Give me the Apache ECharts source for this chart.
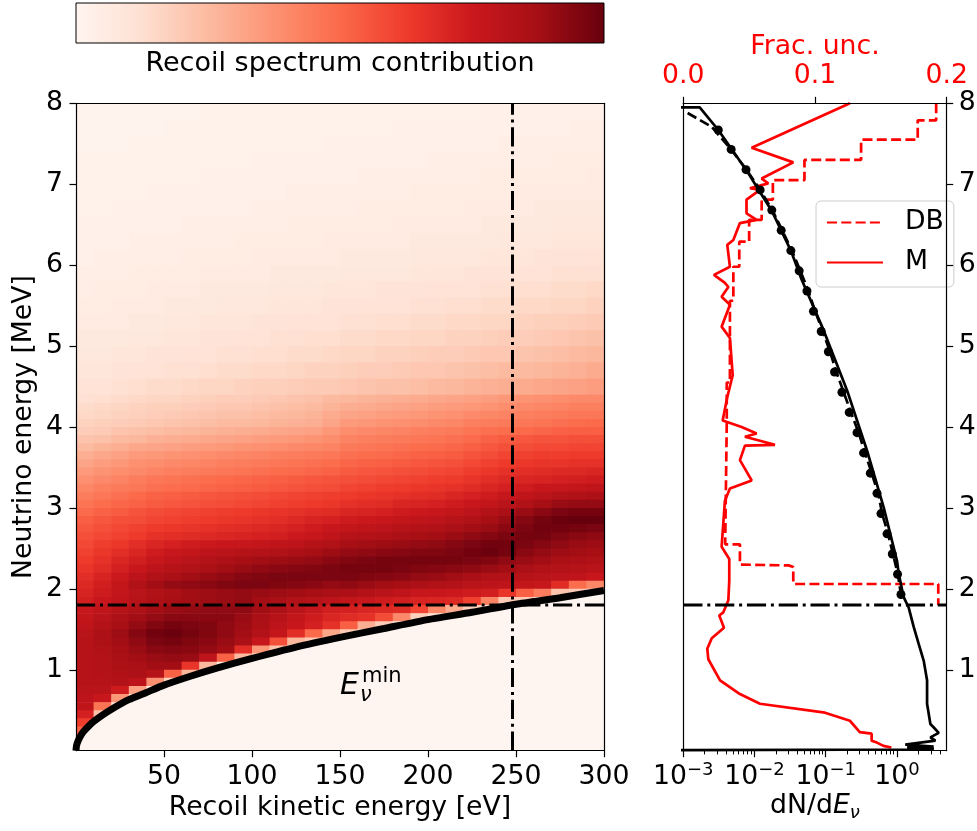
<!DOCTYPE html>
<html>
<head>
<meta charset="utf-8">
<script src="https://cdn.jsdelivr.net/npm/echarts@6.0.0/dist/echarts.min.js"></script>
<style>
  html, body { margin: 0; padding: 0; background: #fff; }
  #chart { width: 977px; height: 831px; }
</style>
</head>
<body>
<div id="chart"></div>
<script>
const FONT = 'DejaVu Sans';
const RED = '#ff0000';
// matplotlib "Reds"
const REDS = ['#fff5f0', '#fee0d2', '#fcbba1', '#fc9272', '#fb6a4a', '#ef3b2c', '#cb181d', '#a50f15', '#67000d'];

// --- left panel: recoil spectrum contribution (0..100) ---
const recoilBins = [0, 10, 20, 30, 40, 50, 60, 70, 80, 90, 100, 110, 120, 130, 140, 150, 160, 170, 180, 190, 200, 210, 220, 230, 240, 250, 260, 270, 280, 290];
const binT = 10;
// row edges, top to bottom (0.2 MeV rows above 4.4 MeV, 0.1 MeV rows below)
const energyEdges = [8.0, 7.8, 7.6, 7.4, 7.2, 7.0, 6.8, 6.6, 6.4, 6.2, 6.0, 5.8, 5.6, 5.4, 5.2, 5.0, 4.8, 4.6, 4.4,
  4.3, 4.2, 4.1, 4.0, 3.9, 3.8, 3.7, 3.6, 3.5, 3.4, 3.3, 3.2, 3.1, 3.0, 2.9, 2.8, 2.7, 2.6, 2.5, 2.4, 2.3, 2.2, 2.1, 2.0,
  1.9, 1.8, 1.7, 1.6, 1.5, 1.4, 1.3, 1.2, 1.1, 1.0, 0.9, 0.8, 0.7, 0.6, 0.5, 0.4, 0.3, 0.2, 0.1, 0.0];
const contribution = [
  [1,1,1,1,1,1,1,2,2,2,2,2,2,2,2,2,2,2,2,2,2,2,2,3,3,3,3,3,3,3],
  [1,1,1,1,1,2,2,2,2,2,2,2,2,2,2,2,2,2,3,3,3,3,3,3,3,3,3,3,4,4],
  [1,1,1,2,2,2,2,2,2,2,2,2,2,2,3,3,3,3,3,3,3,3,3,3,4,4,4,4,4,4],
  [2,2,2,2,2,2,2,2,2,2,3,3,3,3,3,3,3,3,3,3,4,4,4,4,4,4,4,5,5,5],
  [2,2,2,2,2,2,2,3,3,3,3,3,3,3,3,3,4,4,4,4,4,4,4,5,5,5,5,5,5,6],
  [2,2,2,2,3,3,3,3,3,3,3,3,4,4,4,4,4,4,4,5,5,5,5,5,5,6,6,6,6,6],
  [2,2,3,3,3,3,3,3,3,3,4,4,4,4,4,4,5,5,5,5,5,5,6,6,6,6,7,7,7,7],
  [3,3,3,3,3,3,4,4,4,4,4,4,5,5,5,5,5,5,6,6,6,6,6,7,7,7,7,8,8,8],
  [3,3,3,4,4,4,4,4,4,5,5,5,5,5,6,6,6,6,6,7,7,7,7,7,8,8,8,9,9,9],
  [3,4,4,4,4,4,5,5,5,5,6,6,6,6,6,7,7,7,7,8,8,8,8,9,9,9,10,10,10,11],
  [4,4,4,5,5,5,5,6,6,6,6,7,7,7,7,8,8,8,8,9,9,9,10,10,10,11,11,12,12,12],
  [4,5,5,5,6,6,6,7,7,7,7,8,8,8,9,9,9,10,10,10,11,11,11,12,12,13,13,14,14,15],
  [5,5,6,6,6,7,7,7,8,8,8,9,9,9,10,10,11,11,11,12,12,13,13,14,14,15,15,16,16,17],
  [6,6,6,7,7,8,8,9,9,9,10,10,11,11,11,12,12,13,13,14,14,15,15,16,16,17,18,18,19,20],
  [7,7,7,8,8,9,9,10,10,11,11,12,12,13,13,14,14,15,15,16,16,17,17,18,19,19,20,21,22,23],
  [8,8,9,9,10,10,11,11,12,12,13,13,14,14,15,16,16,17,17,18,19,19,20,21,21,22,23,24,25,26],
  [9,9,10,11,11,12,12,13,14,14,15,15,16,17,17,18,19,19,20,21,21,22,23,24,25,25,26,27,28,30],
  [11,11,12,13,14,14,15,16,16,17,18,18,19,20,20,21,22,23,23,24,25,26,27,28,29,30,31,32,33,34],
  [12,13,14,15,16,16,17,18,19,19,20,21,22,23,25,26,27,28,29,30,31,32,33,34,36,37,38,39,40,40],
  [14,15,16,17,18,18,19,20,21,21,22,23,24,25,27,29,30,31,32,33,34,35,36,37,39,40,41,42,43,43],
  [15,16,17,18,19,20,21,22,23,23,24,25,26,27,30,32,33,34,35,36,37,38,40,41,42,43,44,45,46,46],
  [17,18,19,20,21,22,23,24,25,25,26,27,28,29,32,35,36,37,38,39,40,41,43,44,45,46,47,48,49,50],
  [19,20,22,23,24,25,26,27,28,29,30,31,32,33,36,39,40,41,42,43,44,45,47,48,49,50,51,52,53,53],
  [22,23,25,26,28,29,30,31,32,33,34,35,36,37,39,42,43,44,45,46,47,48,50,52,54,55,56,56,57,57],
  [25,27,29,31,32,33,34,35,36,37,38,39,40,41,42,45,46,47,48,49,50,51,53,55,57,58,59,59,60,60],
  [29,31,33,35,36,37,38,39,40,41,42,43,44,45,46,48,49,50,51,52,53,54,56,58,60,61,62,62,63,63],
  [32,34,36,38,39,40,41,42,43,44,45,46,47,48,49,51,52,53,54,55,56,57,59,61,63,64,65,65,66,66],
  [35,37,39,40,42,43,44,45,46,47,48,49,50,51,52,54,55,56,57,58,59,60,62,64,66,67,68,69,69,70],
  [38,40,42,44,46,47,48,49,50,51,52,53,54,55,56,57,58,59,60,61,62,63,65,67,69,70,71,72,73,74],
  [41,43,45,46,48,49,50,51,52,53,54,55,56,57,58,60,61,62,63,64,65,66,68,70,72,74,76,77,78,79],
  [44,46,48,50,52,53,54,55,56,57,58,59,60,61,62,63,64,65,66,67,68,70,72,74,77,79,81,83,84,85],
  [47,49,51,52,54,55,56,57,58,59,60,61,62,63,64,66,67,68,70,71,72,74,76,78,81,84,87,90,91,91],
  [50,52,54,56,58,59,60,61,62,63,64,65,66,67,68,70,71,72,74,75,76,78,80,83,86,90,93,96,97,97],
  [53,55,57,58,60,61,62,63,64,65,66,67,69,71,72,74,75,76,78,79,80,82,84,87,90,94,97,99,100,100],
  [55,57,59,61,63,64,65,66,67,68,69,70,72,74,76,78,79,80,82,83,84,86,88,90,93,96,98,98,97,96],
  [57,59,61,63,66,67,68,69,70,71,72,73,75,77,79,82,83,84,86,87,88,90,92,94,96,97,97,95,93,92],
  [59,62,64,67,70,72,74,75,76,77,78,79,80,82,84,87,88,89,90,91,92,94,96,98,98,96,94,92,90,89],
  [61,64,67,70,74,76,78,80,81,82,83,84,85,87,89,91,92,93,94,95,95,96,98,99,97,93,91,89,88,87],
  [63,66,70,73,77,79,81,83,85,87,88,89,90,91,93,95,96,97,97,97,97,97,96,95,92,90,88,86,85,84],
  [65,68,72,76,80,82,84,86,88,90,92,93,94,95,96,97,97,97,96,95,94,93,92,90,88,86,84,83,82,81],
  [67,71,75,80,84,86,88,90,92,94,95,96,96,96,96,96,95,94,93,91,90,88,86,84,83,82,81,80,79,76],
  [69,73,78,84,88,91,92,93,95,96,96,95,94,93,91,92,90,88,87,85,84,83,81,80,79,78,77,68,49,41],
  [71,74,78,81,84,86,88,89,90,91,90,89,88,87,86,85,83,81,79,77,76,75,74,73,65,53,44,22,20,10],
  [73,76,79,82,85,87,88,89,90,91,88,86,84,82,80,78,76,74,73,71,70,69,61,42,20,20,7,7,0,0],
  [76,79,82,85,88,90,91,92,92,92,88,85,81,77,73,72,70,69,68,60,41,30,19,6,6,0,0,0,0,0],
  [78,81,85,88,91,93,93,93,93,90,86,82,78,74,70,68,66,58,40,18,12,6,5,0,0,0,0,0,0,0],
  [79,83,87,91,95,97,96,95,92,89,85,80,76,72,66,53,29,19,6,6,0,0,0,0,0,0,0,0,0,0],
  [81,85,89,94,98,99,97,95,92,88,83,78,67,50,31,20,6,0,0,0,0,0,0,0,0,0,0,0,0,0],
  [82,85,88,92,96,97,95,93,90,86,77,57,26,21,7,0,0,0,0,0,0,0,0,0,0,0,0,0,0,0],
  [82,84,87,90,93,94,93,91,88,67,36,22,7,0,0,0,0,0,0,0,0,0,0,0,0,0,0,0,0,0],
  [82,83,86,88,90,91,90,79,52,25,8,0,0,0,0,0,0,0,0,0,0,0,0,0,0,0,0,0,0,0],
  [82,83,85,86,88,88,65,26,8,4,0,0,0,0,0,0,0,0,0,0,0,0,0,0,0,0,0,0,0,0],
  [82,83,84,85,82,52,26,8,0,0,0,0,0,0,0,0,0,0,0,0,0,0,0,0,0,0,0,0,0,0],
  [82,82,83,80,38,17,0,0,0,0,0,0,0,0,0,0,0,0,0,0,0,0,0,0,0,0,0,0,0,0],
  [81,81,74,33,8,0,0,0,0,0,0,0,0,0,0,0,0,0,0,0,0,0,0,0,0,0,0,0,0,0],
  [80,76,36,12,0,0,0,0,0,0,0,0,0,0,0,0,0,0,0,0,0,0,0,0,0,0,0,0,0,0],
  [79,47,12,0,0,0,0,0,0,0,0,0,0,0,0,0,0,0,0,0,0,0,0,0,0,0,0,0,0,0],
  [72,23,0,0,0,0,0,0,0,0,0,0,0,0,0,0,0,0,0,0,0,0,0,0,0,0,0,0,0,0],
  [62,3,0,0,0,0,0,0,0,0,0,0,0,0,0,0,0,0,0,0,0,0,0,0,0,0,0,0,0,0],
  [52,0,0,0,0,0,0,0,0,0,0,0,0,0,0,0,0,0,0,0,0,0,0,0,0,0,0,0,0,0],
  [38,0,0,0,0,0,0,0,0,0,0,0,0,0,0,0,0,0,0,0,0,0,0,0,0,0,0,0,0,0],
  [20,0,0,0,0,0,0,0,0,0,0,0,0,0,0,0,0,0,0,0,0,0,0,0,0,0,0,0,0,0]
];

// E_nu^min curve
const thresholdRecoil = [0, 0.25, 1, 2, 4, 7, 10, 15, 20, 30, 40, 50, 65, 80, 100, 125, 150, 175, 200, 225, 250, 275, 300];
const thresholdEnergy = [0, 0.06, 0.11, 0.16, 0.23, 0.30, 0.36, 0.44, 0.51, 0.63, 0.72, 0.81, 0.92, 1.02, 1.14, 1.28, 1.40, 1.51, 1.62, 1.71, 1.81, 1.89, 1.98];
const cutRecoil = 248;
const cutEnergy = 1.8;

// --- right panel ---
const fitEnergy = [7.67, 7.43, 7.18, 6.93, 6.68, 6.43, 6.18, 5.93, 5.68, 5.43, 5.18, 4.93, 4.68, 4.43, 4.18, 3.93, 3.68, 3.43, 3.18, 2.93, 2.68, 2.43, 2.18, 1.93];
const fitFlux = [0.0031, 0.0047, 0.0076, 0.012, 0.0175, 0.0237, 0.0324, 0.0424, 0.0545, 0.0673, 0.0865, 0.109, 0.133, 0.169, 0.214, 0.275, 0.340, 0.423, 0.525, 0.597, 0.726, 0.861, 1.02, 1.14];

const dashEnergy = [7.88, 7.71, 7.43, 7.18, 6.92, 6.67, 6.43, 6.18, 5.93, 5.68, 5.43, 5.18, 4.93, 4.68, 4.43, 4.18, 3.93, 3.68, 3.43, 3.18, 2.93, 2.68, 2.43, 2.18, 1.93];
const dashFlux = [0.00115, 0.0025, 0.0047, 0.0077, 0.0122, 0.018, 0.0245, 0.0335, 0.044, 0.057, 0.071, 0.091, 0.115, 0.141, 0.179, 0.226, 0.29, 0.357, 0.442, 0.545, 0.62, 0.75, 0.88, 1.03, 1.14];

const solidEnergy = [7.95, 7.95, 7.67, 7.18, 6.67, 6.18, 5.82, 5.2, 4.455, 3.71, 3.01, 2.35, 2.19, 1.90, 1.77, 1.53, 1.32, 1.11, 0.87, 0.58, 0.33, 0.29, 0.22, 0.165, 0.124, 0.074, 0.05, 0.04, 0.03, 0.015, 0.006];
const solidFlux = [0.0008, 0.0017, 0.0031, 0.0076, 0.0175, 0.0324, 0.046, 0.093, 0.199, 0.38, 0.65, 1.0, 1.06, 1.24, 1.46, 1.72, 2.02, 2.38, 2.65, 2.65, 2.95, 3.27, 3.86, 2.95, 3.47, 1.31, 3.28, 1.39, 3.28, 3.0, 0.0005];

const dbEnergy = [8.0, 7.79, 7.79, 7.55, 7.55, 7.30, 7.30, 7.05, 7.05, 6.81, 6.81, 6.56, 6.56, 6.29, 6.29, 5.98, 5.98, 5.56, 5.56, 4.55, 4.55, 4.05, 4.05, 2.55, 2.55, 2.30, 2.29, 2.27, 2.06, 2.06, 1.80];
const dbUnc = [0.192, 0.192, 0.178, 0.178, 0.135, 0.135, 0.092, 0.092, 0.068, 0.068, 0.0595, 0.0595, 0.050, 0.050, 0.0425, 0.0425, 0.038, 0.038, 0.0354, 0.0354, 0.0330, 0.0330, 0.0318, 0.0318, 0.043, 0.043, 0.080, 0.0835, 0.0835, 0.1936, 0.1936];

const mEnergy = [8.0, 7.45, 7.27, 7.07, 7.01, 6.95, 6.93, 6.81, 6.64, 6.56, 6.52, 6.31, 6.25, 5.98, 5.88, 5.78, 5.73, 5.61, 5.51, 5.24, 5.10, 4.64, 4.37, 4.08, 4.00, 3.92, 3.88, 3.78, 3.77, 3.59, 3.34, 3.24, 3.09, 2.52, 2.37, 2.10, 1.86, 1.71, 1.67, 1.52, 1.39, 1.26, 1.13, 0.87, 0.70, 0.58, 0.47, 0.37, 0.23, 0.21, 0.124, 0.10, 0.06, 0.04];
const mUnc = [0.1265, 0.0519, 0.0835, 0.0595, 0.0645, 0.0506, 0.0582, 0.048, 0.048, 0.0557, 0.043, 0.038, 0.0334, 0.0354, 0.0233, 0.0316, 0.0342, 0.0291, 0.0354, 0.0291, 0.0354, 0.0375, 0.0334, 0.0299, 0.0443, 0.0557, 0.0468, 0.0696, 0.0468, 0.043, 0.0519, 0.0354, 0.0316, 0.0291, 0.0349, 0.0349, 0.0342, 0.0304, 0.0273, 0.0309, 0.0216, 0.0182, 0.019, 0.0279, 0.043, 0.0582, 0.1076, 0.1265, 0.134, 0.143, 0.143, 0.147, 0.152, 0.158];

// tick positions
const recoilTicks = [50, 100, 150, 200, 250, 300];
const energyTicks = [1, 2, 3, 4, 5, 6, 7, 8];
const fluxTicks = [0.001, 0.01, 0.1, 1];
const fluxMinorTicks = [0.002, 0.003, 0.004, 0.005, 0.006, 0.007, 0.008, 0.009,
                        0.02, 0.03, 0.04, 0.05, 0.06, 0.07, 0.08, 0.09,
                        0.2, 0.3, 0.4, 0.5, 0.6, 0.7, 0.8, 0.9, 2, 3, 4];

const pairs = (xs, ys) => xs.map((x, i) => [x, ys[i]]);

// [recoil low, energy low, value, energy high]
const heatData = [];
contribution.forEach((row, i) => {
  row.forEach((v, j) => heatData.push([recoilBins[j], energyEdges[i + 1], v, energyEdges[i]]));
});

const spine = { show: true, onZero: false, lineStyle: { color: '#000', width: 1.2 } };
const tick = { show: true, length: 6.5, lineStyle: { color: '#000', width: 1.2 } };
const txt = { fontFamily: FONT, fontSize: 26.7, color: '#000' };
const dashDot = [19.2, 4.8, 3, 4.8];
const lineOnly = (extra) => Object.assign({
  z: 10, axisLine: spine, axisTick: { show: false }, axisLabel: { show: false }, splitLine: { show: false }
}, extra);

const chart = echarts.init(document.getElementById('chart'));
chart.setOption({
  animation: false,
  backgroundColor: '#fff',
  textStyle: { fontFamily: FONT },
  grid: [
    { left: 76, top: 103.3, width: 528, height: 647.4, outerBoundsMode: 'none' },
    { left: 683.3, top: 103.3, width: 263.4, height: 647.4, outerBoundsMode: 'none' }
  ],
  visualMap: {
    type: 'continuous', show: false, min: 0, max: 100, dimension: 2, seriesIndex: 0,
    inRange: { color: REDS }
  },
  legend: {
    data: ['DB', 'M'], orient: 'vertical', left: 816, top: 201,
    itemWidth: 56, itemHeight: 14, itemGap: 13, selectedMode: false,
    padding: [8, 10, 11, 10],
    backgroundColor: 'rgba(255,255,255,0.8)', borderColor: '#cccccc', borderWidth: 1, borderRadius: 5,
    itemStyle: { opacity: 0 },
    textStyle: { fontFamily: FONT, fontSize: 26.7, color: '#000', padding: [0, 0, 0, 17] }
  },
  xAxis: [
    {
      gridIndex: 0, type: 'value', min: 0, max: 300, position: 'bottom', z: 10,
      axisLine: spine,
      axisTick: Object.assign({ customValues: recoilTicks }, tick),
      axisLabel: Object.assign({ margin: 13, customValues: recoilTicks }, txt),
      splitLine: { show: false },
      name: 'Recoil kinetic energy [eV]', nameLocation: 'middle', nameGap: 44,
      nameMoveOverlap: false, nameTextStyle: txt
    },
    lineOnly({ gridIndex: 0, type: 'value', min: 0, max: 300, position: 'top' }),
    {
      gridIndex: 1, type: 'log', logBase: 10, min: 0.001, max: 5, position: 'bottom', z: 10,
      axisLine: spine,
      axisTick: Object.assign({ customValues: fluxTicks }, tick),
      axisLabel: {
        margin: 10.7, customValues: fluxTicks,
        formatter: (v) => {
          const e = Math.round(Math.log10(v));
          return '{b|10}{s|' + (e < 0 ? '\u2212' : '') + Math.abs(e) + '}';
        },
        rich: {
          b: { fontFamily: FONT, fontSize: 26.7, color: '#000' },
          s: { fontFamily: FONT, fontSize: 18, color: '#000', padding: [0, 0, 14, 0] }
        }
      },
      splitLine: { show: false }, minorTick: { show: false },
      name: '{a|dN/d}{e|E}{n|\u03bd}', nameLocation: 'middle', nameGap: 38, nameMoveOverlap: false,
      nameTextStyle: {
        rich: {
          a: { fontFamily: FONT, fontSize: 26.7, color: '#000' },
          e: { fontFamily: FONT, fontSize: 26.7, color: '#000', fontStyle: 'italic' },
          n: { fontFamily: FONT, fontSize: 18, color: '#000', fontStyle: 'italic', padding: [16, 0, 0, 0] }
        }
      }
    },
    {
      gridIndex: 1, type: 'log', logBase: 10, min: 0.001, max: 5, position: 'bottom', z: 10,
      axisLine: { show: false },
      axisTick: { show: true, length: 3.7, lineStyle: { color: '#000', width: 1 }, customValues: fluxMinorTicks },
      axisLabel: { show: false }, splitLine: { show: false }
    },
    {
      gridIndex: 1, type: 'value', min: 0, max: 0.2, interval: 0.1, position: 'top', z: 10,
      axisLine: spine, axisTick: tick,
      axisLabel: Object.assign({}, txt, { color: RED, margin: 14, formatter: (v) => v.toFixed(1) }),
      splitLine: { show: false },
      name: 'Frac. unc.', nameLocation: 'middle', nameGap: 43, nameMoveOverlap: false,
      nameTextStyle: Object.assign({}, txt, { color: RED })
    }
  ],
  yAxis: [
    {
      gridIndex: 0, type: 'value', min: 0, max: 8, position: 'left', z: 10,
      axisLine: spine,
      axisTick: Object.assign({ customValues: energyTicks }, tick),
      axisLabel: Object.assign({ margin: 13, customValues: energyTicks }, txt),
      splitLine: { show: false },
      name: 'Neutrino energy [MeV]', nameLocation: 'middle', nameRotate: 90, nameGap: 38,
      nameMoveOverlap: false, nameTextStyle: txt
    },
    lineOnly({ gridIndex: 0, type: 'value', min: 0, max: 8, position: 'right' }),
    {
      gridIndex: 1, type: 'value', min: 0, max: 8, position: 'right', z: 10,
      axisLine: spine,
      axisTick: Object.assign({ customValues: energyTicks }, tick),
      axisLabel: Object.assign({ margin: 12, customValues: energyTicks }, txt),
      splitLine: { show: false }
    },
    lineOnly({ gridIndex: 1, type: 'value', min: 0, max: 8, position: 'left' })
  ],
  graphic: [
    {
      type: 'rect', z: 100,
      shape: { x: 76, y: 3, width: 528, height: 40 },
      style: {
        fill: { type: 'linear', x: 0, y: 0, x2: 1, y2: 0,
                colorStops: REDS.map((c, i) => ({ offset: i / (REDS.length - 1), color: c })) },
        stroke: '#000', lineWidth: 1
      }
    },
    { type: 'text', z: 100, x: 340, y: 64,
      style: { text: 'Recoil spectrum contribution', fontFamily: FONT, fontSize: 27, fill: '#000',
               textAlign: 'center', textVerticalAlign: 'middle' } },
    { type: 'text', z: 100, x: 340, y: 686,
      style: { text: 'E', fontFamily: FONT, fontSize: 30, fontStyle: 'italic', fill: '#000', textVerticalAlign: 'middle' } },
    { type: 'text', z: 100, x: 362, y: 676.5,
      style: { text: 'min', fontFamily: FONT, fontSize: 21, fill: '#000', textVerticalAlign: 'middle' } },
    { type: 'text', z: 100, x: 360, y: 696,
      style: { text: '\u03bd', fontFamily: FONT, fontSize: 21, fontStyle: 'italic', fill: '#000', textVerticalAlign: 'middle' } }
  ],
  series: [
    {
      type: 'custom', xAxisIndex: 0, yAxisIndex: 0, data: heatData, encode: { x: 0, y: 1 },
      clip: true, silent: true, z: 1,
      renderItem: (params, api) => {
        const a = api.coord([api.value(0), api.value(3)]);
        const b = api.coord([api.value(0) + binT, api.value(1)]);
        return {
          type: 'rect',
          shape: { x: a[0], y: a[1], width: b[0] - a[0] + 0.7, height: b[1] - a[1] + 0.7 },
          style: { fill: api.visual('color') }
        };
      }
    },
    {
      type: 'line', xAxisIndex: 0, yAxisIndex: 0, data: pairs(thresholdRecoil, thresholdEnergy),
      symbol: 'none', smooth: 0.2, clip: true, z: 3, silent: true,
      lineStyle: { color: '#000', width: 7 },
      areaStyle: { color: REDS[0], opacity: 1 }
    },
    {
      type: 'line', xAxisIndex: 0, yAxisIndex: 0, data: [[cutRecoil, 0], [cutRecoil, 8]],
      symbol: 'none', z: 4, silent: true, lineStyle: { color: '#000', width: 3, type: dashDot }
    },
    {
      type: 'line', xAxisIndex: 0, yAxisIndex: 0, data: [[0, cutEnergy], [300, cutEnergy]],
      symbol: 'none', z: 4, silent: true, lineStyle: { color: '#000', width: 3, type: dashDot }
    },
    {
      name: 'M', type: 'line', xAxisIndex: 4, yAxisIndex: 2, data: pairs(mUnc, mEnergy),
      symbol: 'none', clip: true, z: 3, itemStyle: { color: RED }, lineStyle: { color: RED, width: 2.7 }
    },
    {
      name: 'DB', type: 'line', xAxisIndex: 4, yAxisIndex: 2, data: pairs(dbUnc, dbEnergy),
      symbol: 'none', clip: true, z: 3, itemStyle: { color: RED }, lineStyle: { color: RED, width: 2.7, type: [10, 4.3] }
    },
    {
      type: 'line', xAxisIndex: 2, yAxisIndex: 2, data: pairs(solidFlux, solidEnergy),
      symbol: 'none', clip: true, z: 4, lineStyle: { color: '#000', width: 2.7 }
    },
    {
      type: 'line', xAxisIndex: 2, yAxisIndex: 2, data: pairs(dashFlux, dashEnergy),
      symbol: 'none', clip: true, z: 4, lineStyle: { color: '#000', width: 2.7, type: [10, 4.3] }
    },
    {
      type: 'scatter', xAxisIndex: 2, yAxisIndex: 2, data: pairs(fitFlux, fitEnergy),
      symbol: 'circle', symbolSize: 9, z: 5, itemStyle: { color: '#000', opacity: 1 }
    },
    {
      type: 'line', xAxisIndex: 4, yAxisIndex: 2, data: [[0, cutEnergy], [0.2, cutEnergy]],
      symbol: 'none', z: 4, silent: true, lineStyle: { color: '#000', width: 3, type: dashDot }
    }
  ]
});
</script>
</body>
</html>
